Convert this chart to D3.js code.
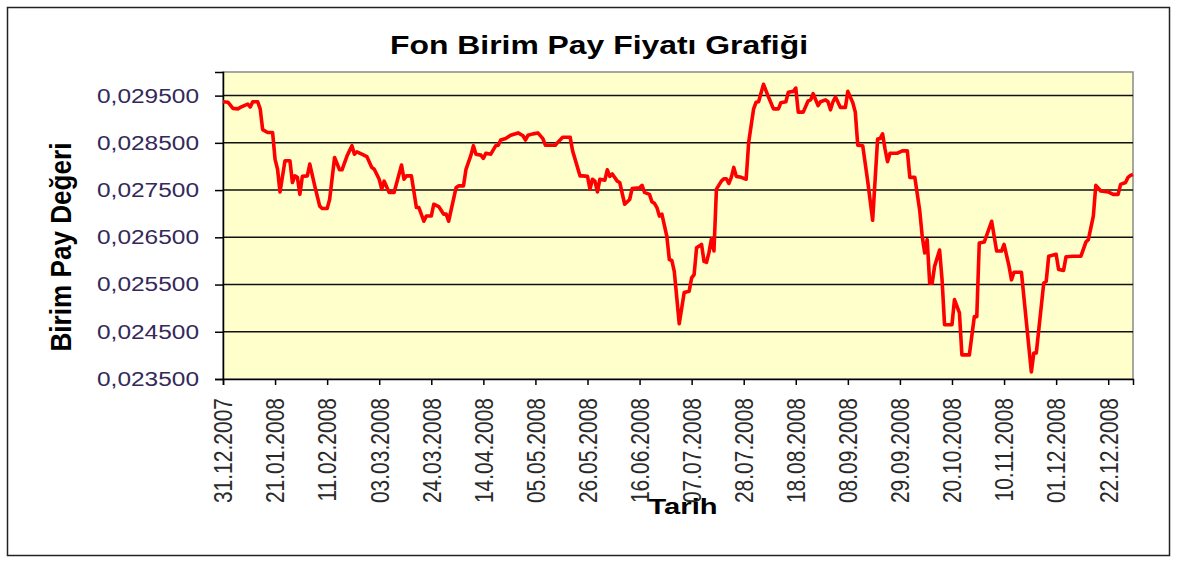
<!DOCTYPE html>
<html>
<head>
<meta charset="utf-8">
<script src="https://cdn.jsdelivr.net/npm/d3@7.9.0/dist/d3.min.js"></script>
<style>
  body { margin: 0; background: #fff; }
  svg text { font-family: "Liberation Sans", Arial, sans-serif; }
</style>
</head>
<body>
<svg id="chart" width="1182" height="563"></svg>
<script>
// Daily unit price of the fund
const dates = [
  "31.12.2007","02.01.2008","04.01.2008","06.01.2008","07.01.2008","09.01.2008","10.01.2008","11.01.2008","12.01.2008","14.01.2008",
  "15.01.2008","16.01.2008","18.01.2008","20.01.2008","21.01.2008","22.01.2008","23.01.2008","25.01.2008","27.01.2008","28.01.2008",
  "29.01.2008","30.01.2008","31.01.2008","01.02.2008","03.02.2008","04.02.2008","06.02.2008","08.02.2008","09.02.2008","11.02.2008",
  "12.02.2008","14.02.2008","16.02.2008","17.02.2008","19.02.2008","20.02.2008","21.02.2008","22.02.2008","23.02.2008","25.02.2008",
  "27.02.2008","29.02.2008","01.03.2008","03.03.2008","04.03.2008","05.03.2008","07.03.2008","09.03.2008","12.03.2008","13.03.2008",
  "14.03.2008","16.03.2008","18.03.2008","19.03.2008","21.03.2008","22.03.2008","24.03.2008","25.03.2008","27.03.2008","29.03.2008",
  "30.03.2008","31.03.2008","03.04.2008","04.04.2008","06.04.2008","07.04.2008","09.04.2008","10.04.2008","11.04.2008","13.04.2008",
  "14.04.2008","15.04.2008","17.04.2008","19.04.2008","20.04.2008","21.04.2008","23.04.2008","25.04.2008","28.04.2008","30.04.2008",
  "01.05.2008","02.05.2008","04.05.2008","06.05.2008","08.05.2008","09.05.2008","11.05.2008","13.05.2008","14.05.2008","16.05.2008",
  "19.05.2008","20.05.2008","23.05.2008","24.05.2008","26.05.2008","27.05.2008","28.05.2008","29.05.2008","30.05.2008","31.05.2008",
  "02.06.2008","03.06.2008","04.06.2008","05.06.2008","07.06.2008","08.06.2008","10.06.2008","12.06.2008","13.06.2008","16.06.2008",
  "17.06.2008","18.06.2008","20.06.2008","21.06.2008","22.06.2008","23.06.2008","24.06.2008","25.06.2008","27.06.2008","28.06.2008",
  "29.06.2008","30.06.2008","02.07.2008","04.07.2008","06.07.2008","07.07.2008","08.07.2008","09.07.2008","11.07.2008","12.07.2008",
  "13.07.2008","14.07.2008","15.07.2008","16.07.2008","17.07.2008","19.07.2008","20.07.2008","21.07.2008","22.07.2008","23.07.2008",
  "24.07.2008","25.07.2008","27.07.2008","29.07.2008","30.07.2008","01.08.2008","02.08.2008","03.08.2008","05.08.2008","07.08.2008",
  "09.08.2008","11.08.2008","12.08.2008","14.08.2008","15.08.2008","17.08.2008","18.08.2008","19.08.2008","21.08.2008","23.08.2008",
  "24.08.2008","25.08.2008","27.08.2008","28.08.2008","30.08.2008","31.08.2008","01.09.2008","02.09.2008","03.09.2008","05.09.2008",
  "07.09.2008","08.09.2008","10.09.2008","11.09.2008","12.09.2008","14.09.2008","16.09.2008","18.09.2008","20.09.2008","21.09.2008",
  "22.09.2008","23.09.2008","24.09.2008","25.09.2008","28.09.2008","30.09.2008","02.10.2008","03.10.2008","05.10.2008","07.10.2008",
  "08.10.2008","09.10.2008","10.10.2008","11.10.2008","12.10.2008","13.10.2008","15.10.2008","16.10.2008","17.10.2008","20.10.2008",
  "21.10.2008","23.10.2008","24.10.2008","27.10.2008","29.10.2008","30.10.2008","31.10.2008","02.11.2008","05.11.2008","07.11.2008",
  "09.11.2008","10.11.2008","12.11.2008","13.11.2008","14.11.2008","17.11.2008","21.11.2008","22.11.2008","23.11.2008","26.11.2008",
  "27.11.2008","28.11.2008","01.12.2008","02.12.2008","04.12.2008","05.12.2008","08.12.2008","11.12.2008","13.12.2008","14.12.2008",
  "16.12.2008","17.12.2008","19.12.2008","22.12.2008","24.12.2008","26.12.2008","27.12.2008","29.12.2008","30.12.2008","31.12.2008",
  "01.01.2009"
];

const prices = [
  0.02937,0.02936,0.02923,0.02922,0.02925,0.02930,0.02932,0.02926,0.02937,0.02937,
  0.02922,0.02878,0.02872,0.02872,0.02815,0.02794,0.02746,0.02812,0.02812,0.02766,
  0.02780,0.02777,0.02741,0.02779,0.02780,0.02805,0.02759,0.02716,0.02711,0.02711,
  0.02730,0.02819,0.02793,0.02793,0.02822,0.02833,0.02844,0.02826,0.02831,0.02826,
  0.02821,0.02798,0.02794,0.02773,0.02752,0.02769,0.02745,0.02745,0.02803,0.02773,
  0.02780,0.02780,0.02713,0.02713,0.02684,0.02695,0.02695,0.02720,0.02715,0.02699,
  0.02699,0.02684,0.02755,0.02759,0.02759,0.02794,0.02824,0.02844,0.02826,0.02824,
  0.02817,0.02828,0.02826,0.02844,0.02845,0.02856,0.02859,0.02866,0.02871,0.02865,
  0.02856,0.02866,0.02869,0.02871,0.02859,0.02845,0.02845,0.02845,0.02851,0.02862,
  0.02862,0.02833,0.02780,0.02780,0.02779,0.02752,0.02773,0.02769,0.02746,0.02773,
  0.02771,0.02793,0.02779,0.02784,0.02769,0.02766,0.02720,0.02730,0.02753,0.02755,
  0.02760,0.02745,0.02741,0.02725,0.02722,0.02713,0.02695,0.02699,0.02652,0.02603,
  0.02601,0.02578,0.02467,0.02533,0.02536,0.02564,0.02571,0.02628,0.02635,0.02599,
  0.02597,0.02618,0.02647,0.02621,0.02752,0.02769,0.02774,0.02774,0.02764,0.02777,
  0.02798,0.02779,0.02777,0.02773,0.02851,0.02922,0.02936,0.02937,0.02974,0.02947,
  0.02922,0.02922,0.02935,0.02937,0.02957,0.02959,0.02966,0.02915,0.02915,0.02939,
  0.02941,0.02954,0.02929,0.02937,0.02941,0.02937,0.02920,0.02937,0.02947,0.02925,
  0.02925,0.02959,0.02935,0.02915,0.02845,0.02844,0.02769,0.02686,0.02858,0.02859,
  0.02869,0.02837,0.02810,0.02828,0.02828,0.02833,0.02833,0.02777,0.02777,0.02706,
  0.02652,0.02617,0.02645,0.02553,0.02553,0.02589,0.02623,0.02560,0.02465,0.02465,
  0.02518,0.02490,0.02401,0.02401,0.02482,0.02482,0.02638,0.02640,0.02684,0.02621,
  0.02621,0.02635,0.02589,0.02560,0.02576,0.02576,0.02365,0.02405,0.02405,0.02553,
  0.02557,0.02610,0.02614,0.02582,0.02580,0.02609,0.02610,0.02610,0.02640,0.02645,
  0.02695,0.02760,0.02748,0.02746,0.02741,0.02741,0.02762,0.02766,0.02777,0.02781,
  0.02783
];

const yTicks = [0.0235, 0.0245, 0.0255, 0.0265, 0.0275, 0.0285, 0.0295];
const yDomain = [0.0235, 0.0300];
const xDomain = ["31.12.2007", "01.01.2009"];
const xTickLabels = [
  "31.12.2007","21.01.2008","11.02.2008","03.03.2008","24.03.2008","14.04.2008",
  "05.05.2008","26.05.2008","16.06.2008","07.07.2008","28.07.2008","18.08.2008",
  "08.09.2008","29.09.2008","20.10.2008","10.11.2008","01.12.2008","22.12.2008"
];

const parseDate = d3.utcParse("%d.%m.%Y");
const data = dates.map((d, i) => ({ date: parseDate(d), value: prices[i] }));

const svg = d3.select("#chart");
const plot = { left: 223, top: 72, right: 1133, bottom: 379 };

// outer chart frame
svg.append("rect")
  .attr("x", 7.5).attr("y", 7.5)
  .attr("width", 1162).attr("height", 548)
  .attr("fill", "#fff")
  .attr("stroke", "#222").attr("stroke-width", 1.5);

const x = d3.scaleUtc()
  .domain(xDomain.map(parseDate))
  .range([plot.left, plot.right]);

const y = d3.scaleLinear()
  .domain(yDomain)
  .range([plot.bottom, plot.top]);

// plot background
svg.append("rect")
  .attr("x", plot.left).attr("y", plot.top)
  .attr("width", plot.right - plot.left)
  .attr("height", plot.bottom - plot.top)
  .attr("fill", "#ffffcc")
  .attr("stroke", "#8a8a8a").attr("stroke-width", 1.5);

// horizontal gridlines
svg.append("g")
  .selectAll("line")
  .data(yTicks.slice(1))
  .join("line")
  .attr("x1", plot.left).attr("x2", plot.right)
  .attr("y1", d => y(d)).attr("y2", d => y(d))
  .attr("stroke", "#111").attr("stroke-width", 1.5);

// y axis
const fmt = d => d3.format(".6f")(d).replace(".", ",");
const yAxis = svg.append("g")
  .attr("transform", `translate(${plot.left},0)`)
  .call(d3.axisLeft(y).tickValues(yTicks).tickFormat(fmt).tickSize(8).tickPadding(16));
yAxis.select(".domain").attr("stroke", "#000").attr("stroke-width", 1.5);
yAxis.selectAll(".tick line").attr("stroke", "#000").attr("stroke-width", 1.5);
yAxis.selectAll(".tick text")
  .attr("font-size", 20)
  .attr("fill", "#34295a")
  .attr("textLength", 102)
  .attr("lengthAdjust", "spacingAndGlyphs");

// x axis
const xAxis = svg.append("g")
  .attr("transform", `translate(0,${plot.bottom})`)
  .call(d3.axisBottom(x).tickValues(xTickLabels.map(parseDate)).tickSize(6).tickFormat(d3.utcFormat("%d.%m.%Y")));
xAxis.select(".domain").attr("stroke", "#000").attr("stroke-width", 1.5);
xAxis.selectAll(".tick line").attr("stroke", "#000").attr("stroke-width", 1.5);
xAxis.selectAll(".tick text")
  .attr("font-size", 21)
  .attr("fill", "#2a2a2a")
  .attr("text-anchor", "end")
  .attr("x", 0).attr("y", 0)
  .attr("dy", "0.35em")
  .attr("transform", "translate(0,19) rotate(-90) scale(1,1.2)");

// price line
const line = d3.line()
  .x(d => x(d.date))
  .y(d => y(d.value));

svg.append("path")
  .datum(data)
  .attr("d", line)
  .attr("fill", "none")
  .attr("stroke", "#ff0000")
  .attr("stroke-width", 3.6)
  .attr("stroke-linejoin", "round");

// titles
svg.append("text")
  .attr("x", 599).attr("y", 54)
  .attr("text-anchor", "middle")
  .attr("font-size", 26).attr("font-weight", "bold")
  .attr("textLength", 418).attr("lengthAdjust", "spacingAndGlyphs")
  .text("Fon Birim Pay Fiyatı Grafiği");

svg.append("text")
  .attr("transform", "translate(71,247) rotate(-90) scale(1,1.23)")
  .attr("text-anchor", "middle")
  .attr("font-size", 24).attr("font-weight", "bold")
  .attr("textLength", 209).attr("lengthAdjust", "spacingAndGlyphs")
  .text("Birim Pay Değeri");

svg.append("text")
  .attr("x", 683).attr("y", 514)
  .attr("text-anchor", "middle")
  .attr("font-size", 22).attr("font-weight", "bold")
  .attr("textLength", 69).attr("lengthAdjust", "spacingAndGlyphs")
  .text("Tarih");
</script>
</body>
</html>
